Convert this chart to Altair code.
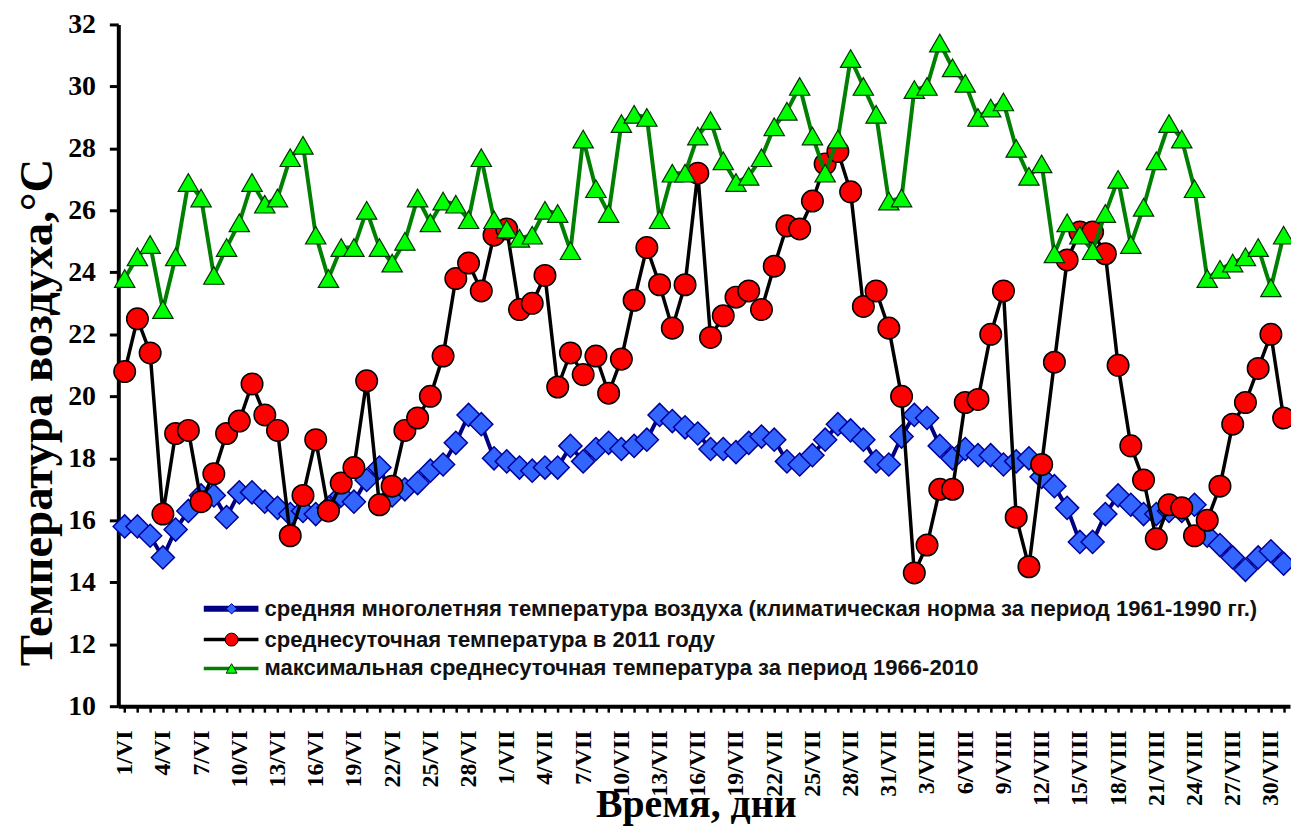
import altair as alt
import pandas as pd

months = [("VI", 30), ("VII", 31), ("VIII", 31)]
days = [f"{d}/{m}" for m, n in months for d in range(1, n + 1)]
shown_labels = days[::3]

norm = [15.8, 15.8, 15.5, 14.8, 15.7, 16.3, 16.8, 16.8, 16.1, 16.9,
        16.9, 16.6, 16.4, 16.2, 16.3, 16.2, 16.4, 16.8, 16.6, 17.3,
        17.7, 16.8, 17.0, 17.2, 17.6, 17.8, 18.5, 19.4, 19.1, 18.0,
        17.9, 17.7, 17.6, 17.7, 17.7, 18.4, 17.9, 18.3, 18.5, 18.3,
        18.4, 18.6, 19.4, 19.2, 19.0, 18.8, 18.3, 18.3, 18.2, 18.5,
        18.7, 18.6, 17.9, 17.8, 18.1, 18.6, 19.1, 18.9, 18.6, 17.9,
        17.8, 18.7, 19.4, 19.3, 18.4, 18.0, 18.3, 18.1, 18.1, 17.8,
        17.9, 18.0, 17.4, 17.1, 16.4, 15.3, 15.3, 16.2, 16.8, 16.5,
        16.2, 16.2, 16.3, 16.3, 16.5, 15.5, 15.2, 14.8, 14.4, 14.8,
        15.0, 14.6]

t2011 = [20.8, 22.5, 21.4, 16.2, 18.8, 18.9, 16.6, 17.5, 18.8, 19.2,
         20.4, 19.4, 18.9, 15.5, 16.8, 18.6, 16.3, 17.2, 17.7, 20.5,
         16.5, 17.1, 18.9, 19.3, 20.0, 21.3, 23.8, 24.3, 23.4, 25.2,
         25.4, 22.8, 23.0, 23.9, 20.3, 21.4, 20.7, 21.3, 20.1, 21.2,
         23.1, 24.8, 23.6, 22.2, 23.6, 27.2, 21.9, 22.6, 23.2, 23.4,
         22.8, 24.2, 25.5, 25.4, 26.3, 27.5, 27.9, 26.6, 22.9, 23.4,
         22.2, 20.0, 14.3, 15.2, 17.0, 17.0, 19.8, 19.9, 22.0, 23.4,
         16.1, 14.5, 17.8, 21.1, 24.4, 25.3, 25.3, 24.6, 21.0, 18.4,
         17.3, 15.4, 16.5, 16.4, 15.5, 16.0, 17.1, 19.1, 19.8, 20.9,
         22.0, 19.3]

tmax = [23.8, 24.5, 24.9, 22.8, 24.5, 26.9, 26.4, 23.9, 24.8, 25.6,
        26.9, 26.2, 26.4, 27.7, 28.1, 25.2, 23.8, 24.8, 24.8, 26.0,
        24.8, 24.3, 25.0, 26.4, 25.6, 26.3, 26.2, 25.7, 27.7, 25.7,
        25.4, 25.1, 25.2, 26.0, 25.9, 24.7, 28.3, 26.7, 25.9, 28.8,
        29.1, 29.0, 25.7, 27.2, 27.2, 28.4, 28.9, 27.6, 26.9, 27.1,
        27.7, 28.7, 29.2, 30.0, 28.4, 27.2, 28.3, 30.9, 30.0, 29.1,
        26.3, 26.4, 29.9, 30.0, 31.4, 30.6, 30.1, 29.0, 29.3, 29.5,
        28.0, 27.1, 27.5, 24.6, 25.6, 25.2, 24.7, 25.9, 27.0, 24.9,
        26.1, 27.6, 28.8, 28.3, 26.7, 23.8, 24.1, 24.3, 24.5, 24.8,
        23.5, 25.2]

series_names = [
    "средняя многолетняя температура воздуха (климатическая норма за период 1961-1990 гг.)",
    "среднесуточная температура в 2011 году",
    "максимальная среднесуточная температура за период 1966-2010",
]

df = pd.DataFrame({"day": days, "norm": norm, "t2011": t2011, "tmax": tmax})

SERIF = "Liberation Serif"
SANS = "Liberation Sans"

shown_js = "[" + ",".join(f"'{s}'" for s in shown_labels) + "]"

x_axis = alt.Axis(
    labelAngle=-90, labelFont=SERIF, labelFontWeight="bold", labelFontSize=24,
    labelColor="black", labelOverlap=False, labelPadding=18,
    labelExpr=f"indexof({shown_js}, datum.value) >= 0 ? datum.value : ''",
    tickColor="black", tickSize=6, tickWidth=2.5,
    domainColor="black", domainWidth=4, grid=False,
    title="Время, дни", titleFont=SERIF, titleFontWeight="bold", titleFontSize=40,
    titleColor="black", titleX=581, titleY=111, titleBaseline="alphabetic",
)
y_axis = alt.Axis(
    values=list(range(10, 33, 2)), labelFont=SERIF, labelFontWeight="bold",
    labelFontSize=28, labelColor="black", labelPadding=14,
    tickColor="black", tickSize=9, tickWidth=3,
    domainColor="black", domainWidth=4, grid=False,
    title="Температура воздуха,°С", titleFont=SERIF, titleFontWeight="bold",
    titleFontSize=47, titleColor="black", titleX=-81, titleY=390,
    titleAngle=270, titleBaseline="middle",
)

X = alt.X("day:O", sort=days, scale=alt.Scale(type="point", padding=0.5), axis=x_axis)


def Y(field):
    return alt.Y(f"{field}:Q", scale=alt.Scale(domain=[10, 32], nice=False), axis=y_axis)


base = alt.Chart(df)
layers = [
    base.mark_line(color="#000080", strokeWidth=4).encode(x=X, y=Y("norm")),
    base.mark_point(shape="diamond", filled=True, fill="#3366FF", stroke="#000099",
                    strokeWidth=1.5, size=540, opacity=1).encode(x=X, y=Y("norm")),
    base.mark_line(color="black", strokeWidth=3.5).encode(x=X, y=Y("t2011")),
    base.mark_point(shape="circle", filled=True, fill="#FF0000", stroke="black",
                    strokeWidth=1.5, size=470, opacity=1).encode(x=X, y=Y("t2011")),
    base.mark_line(color="#008000", strokeWidth=4).encode(x=X, y=Y("tmax")),
    base.mark_point(shape="triangle-up", filled=True, fill="#00FF00", stroke="#003300",
                    strokeWidth=1.2, size=420, opacity=1).encode(x=X, y=Y("tmax")),
]

# manual legend
leg_rows = [
    dict(line="#000080", lw=6, shape="diamond", fill="#3366FF", stroke="#000099", size=110),
    dict(line="black", lw=3.5, shape="circle", fill="#FF0000", stroke="black", size=170),
    dict(line="#008000", lw=3.5, shape="triangle-up", fill="#00FF00", stroke="#003300", size=120),
]
leg_y = [588, 619, 648]
for k, row in enumerate(leg_rows):
    ld = alt.Chart(pd.DataFrame({"label": [series_names[k]]}))
    layers.append(ld.mark_rule(color=row["line"], strokeWidth=row["lw"]).encode(
        x=alt.value(86), x2=alt.value(141), y=alt.value(leg_y[k])))
    layers.append(ld.mark_point(shape=row["shape"], filled=True, fill=row["fill"],
                                stroke=row["stroke"], strokeWidth=1, size=row["size"],
                                opacity=1).encode(x=alt.value(114), y=alt.value(leg_y[k])))
    layers.append(ld.mark_text(align="left", baseline="middle", font=SANS,
                               fontWeight="bold", fontSize=22.2, color="#111111").encode(
        x=alt.value(147), y=alt.value(leg_y[k]), text="label:N"))

chart = alt.layer(*layers).properties(
    width=1179, height=686,
    autosize=alt.AutoSizeParams(type="none"),
    padding={"left": 111, "top": 14, "right": 1, "bottom": 118},
).configure_view(stroke=None)

chart.save("out.html", embed_options={"renderer": "svg", "actions": False})
